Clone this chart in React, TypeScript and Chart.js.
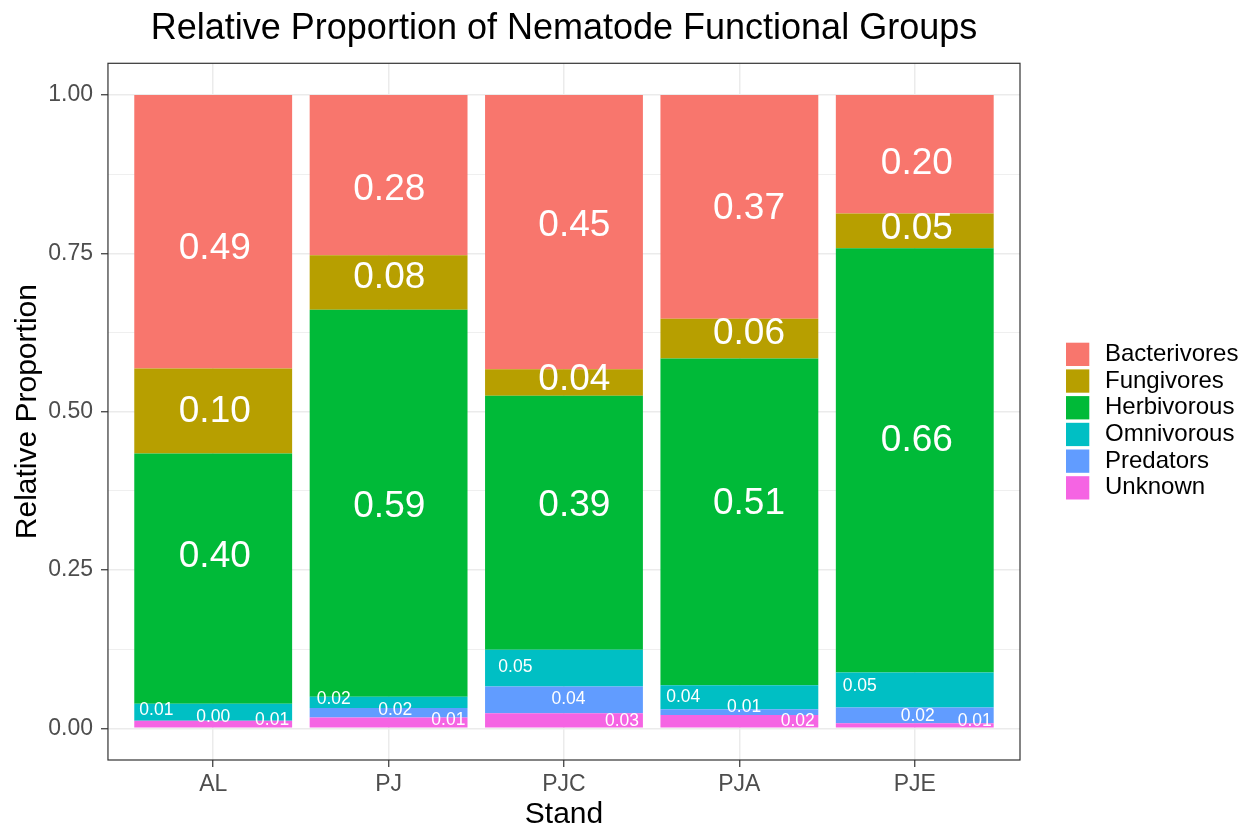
import React, { useEffect, useRef } from 'react';
import { Chart, registerables } from 'chart.js';

Chart.register(...registerables);

// ---- Data ----
const stands = ['AL', 'PJ', 'PJC', 'PJA', 'PJE'];
const groups = ['Bacterivores', 'Fungivores', 'Herbivorous', 'Omnivorous', 'Predators', 'Unknown'];

// segment heights (relative proportion)
const bacterivores = [0.432, 0.253, 0.433, 0.3535, 0.187];
const fungivores = [0.134, 0.086, 0.042, 0.0625, 0.055];
const herbivorous = [0.395, 0.611, 0.401, 0.516, 0.67];
const omnivorous = [0.027, 0.018, 0.058, 0.038, 0.055];
const predators = [0.0, 0.015, 0.042, 0.009, 0.025];
const unknown = [0.012, 0.017, 0.024, 0.021, 0.008];

// printed labels
const bacterivoresLabels = ['0.49', '0.28', '0.45', '0.37', '0.20'];
const fungivoresLabels = ['0.10', '0.08', '0.04', '0.06', '0.05'];
const herbivorousLabels = ['0.40', '0.59', '0.39', '0.51', '0.66'];
const omnivorousLabels = ['0.01', '0.02', '0.05', '0.04', '0.05'];
const predatorsLabels = ['0.00', '0.02', '0.04', '0.01', '0.02'];
const unknownLabels = ['0.01', '0.01', '0.03', '0.02', '0.01'];

// label anchor heights (data units)
const bacterivoresLabelY = [0.757, 0.85, 0.793, 0.821, 0.892];
const fungivoresLabelY = [0.5, 0.711, 0.55, 0.623, 0.789];
const herbivorousLabelY = [0.271, 0.349, 0.351, 0.355, 0.454];
const omnivorousLabelY = [0.028, 0.046, 0.096, 0.0486, 0.066];
const predatorsLabelY = [0.0177, 0.029, 0.046, 0.0335, 0.0197];
const unknownLabelY = [0.0123, 0.0123, 0.0118, 0.0107, 0.0107];

// label horizontal shift (category units)
const bigLabelDx = [0.009, 0.004, 0.059, 0.055, 0.012];
const omnivorousLabelDx = [-0.324, -0.313, -0.277, -0.32, -0.314];
const predatorsLabelDx = [0.0, 0.038, 0.026, 0.027, 0.017];
const unknownLabelDx = [0.336, 0.341, 0.331, 0.333, 0.342];

const yTicks = [0, 0.25, 0.5, 0.75, 1];
const yTickLabels = ['0.00', '0.25', '0.50', '0.75', '1.00'];
const yMinorTicks = [0.125, 0.375, 0.625, 0.875];

const groupColors = ['#F8766D', '#B79F00', '#00BA38', '#00BFC4', '#619CFF', '#F564E3'];

const seriesValues = [bacterivores, fungivores, herbivorous, omnivorous, predators, unknown];
const seriesLabels = [bacterivoresLabels, fungivoresLabels, herbivorousLabels, omnivorousLabels, predatorsLabels, unknownLabels];
const seriesLabelY = [bacterivoresLabelY, fungivoresLabelY, herbivorousLabelY, omnivorousLabelY, predatorsLabelY, unknownLabelY];
const seriesLabelDx = [bigLabelDx, bigLabelDx, bigLabelDx, omnivorousLabelDx, predatorsLabelDx, unknownLabelDx];

const FONT = '"Liberation Sans", Arial, sans-serif';

const labelPlugin = {
  id: 'segmentLabels',
  afterDatasetsDraw(chart: any) {
    const { ctx } = chart;
    const x = chart.scales.x;
    const y = chart.scales.y;
    ctx.save();
    ctx.fillStyle = '#FFFFFF';
    ctx.textAlign = 'center';
    ctx.textBaseline = 'middle';
    groups.forEach((_g, k) => {
      const big = k < 3;
      ctx.font = `${big ? 37 : 17.5}px ${FONT}`;
      seriesLabels[k].forEach((t, i) => {
        ctx.fillText(t, x.getPixelForValue(i + seriesLabelDx[k][i]), y.getPixelForValue(seriesLabelY[k][i]));
      });
    });
    ctx.restore();
  },
};

const framePlugin = {
  id: 'panelFrame',
  afterDraw(chart: any) {
    const { ctx, chartArea } = chart;
    ctx.save();
    ctx.strokeStyle = '#333333';
    ctx.lineWidth = 1.2;
    ctx.strokeRect(chartArea.left, chartArea.top, chartArea.right - chartArea.left, chartArea.bottom - chartArea.top);

    // legend
    const keyX = 1066;
    const keyW = 23.3;
    const top0 = 342.7;
    const step = 26.7;
    ctx.font = `24px ${FONT}`;
    ctx.textAlign = 'left';
    ctx.textBaseline = 'middle';
    groups.forEach((g, k) => {
      const top = top0 + k * step;
      ctx.fillStyle = groupColors[k];
      ctx.fillRect(keyX, top, keyW, keyW);
      ctx.fillStyle = '#000000';
      ctx.fillText(g, 1105, top + keyW / 2);
    });
    ctx.restore();
  },
};

export default function App() {
  const canvasRef = useRef<HTMLCanvasElement | null>(null);

  useEffect(() => {
    if (!canvasRef.current) return;
    const datasets = groups
      .map((g, k) => ({
        label: g,
        data: seriesValues[k].map((v, i) => ({ x: i, y: v })),
        backgroundColor: groupColors[k],
        borderWidth: 0,
        barPercentage: 0.9,
        categoryPercentage: 1,
        stack: 's',
      }))
      .reverse();

    const isMajor = (v: number) => yTicks.indexOf(v) >= 0;

    const chart = new Chart(canvasRef.current, {
      type: 'bar',
      data: { datasets },
      options: {
        responsive: false,
        animation: false,
        devicePixelRatio: 1,
        layout: { padding: { left: 0, right: 227, top: 0, bottom: 0 } },
        plugins: {
          legend: { display: false },
          tooltip: { enabled: false },
          title: {
            display: true,
            text: 'Relative Proportion of Nematode Functional Groups',
            color: '#000000',
            fullSize: false,
            font: { family: FONT, size: 36, weight: 'normal', lineHeight: 1.2 },
            padding: { top: 7.9, bottom: 12.2 },
          },
        },
        scales: {
          x: {
            type: 'linear',
            min: -0.6,
            max: 4.6,
            offset: false,
            stacked: true,
            afterBuildTicks: (s: any) => {
              s.ticks = stands.map((_, i) => ({ value: i }));
            },
            ticks: {
              callback: (v: any) => stands[v as number] ?? '',
              color: '#4D4D4D',
              font: { family: FONT, size: 23, lineHeight: 1 },
              padding: 6.5,
              autoSkip: false,
              maxRotation: 0,
            },
            grid: {
              offset: false,
              color: '#EBEBEB',
              lineWidth: 1.5,
              tickColor: '#333333',
              tickLength: 7,
              tickWidth: 1.2,
            },
            border: { display: false },
            title: {
              display: true,
              text: 'Stand',
              color: '#000000',
              font: { family: FONT, size: 30, lineHeight: 0.8 },
              padding: { top: 0, bottom: 3 },
            },
          },
          y: {
            type: 'linear',
            min: -0.05,
            max: 1.05,
            stacked: true,
            afterBuildTicks: (s: any) => {
              s.ticks = [...yTicks, ...yMinorTicks].sort((a, b) => a - b).map((v) => ({ value: v }));
            },
            ticks: {
              callback: (v: any) => {
                const i = yTicks.indexOf(v as number);
                return i >= 0 ? yTickLabels[i] : '';
              },
              color: '#4D4D4D',
              font: { family: FONT, size: 23, lineHeight: 1 },
              padding: 8,
              autoSkip: false,
            },
            grid: {
              color: '#EBEBEB',
              lineWidth: (c: any) => (c.tick && !isMajor(c.tick.value) ? 0.8 : 1.5),
              tickColor: (c: any) => (c.tick && !isMajor(c.tick.value) ? 'rgba(0,0,0,0)' : '#333333'),
              tickLength: 7,
              tickWidth: 1.2,
            },
            border: { display: false },
            title: {
              display: true,
              text: 'Relative Proportion',
              color: '#000000',
              font: { family: FONT, size: 30, lineHeight: 0.85 },
              padding: { top: 14.7, bottom: 0 },
            },
          },
        },
      },
      plugins: [labelPlugin, framePlugin],
    } as any);

    return () => chart.destroy();
  }, []);

  return (
    <div style={{ position: 'absolute', left: 0, top: 0, width: 1247, height: 830, background: '#FFFFFF' }}>
      <canvas ref={canvasRef} width={1247} height={830} style={{ display: 'block' }} />
    </div>
  );
}
